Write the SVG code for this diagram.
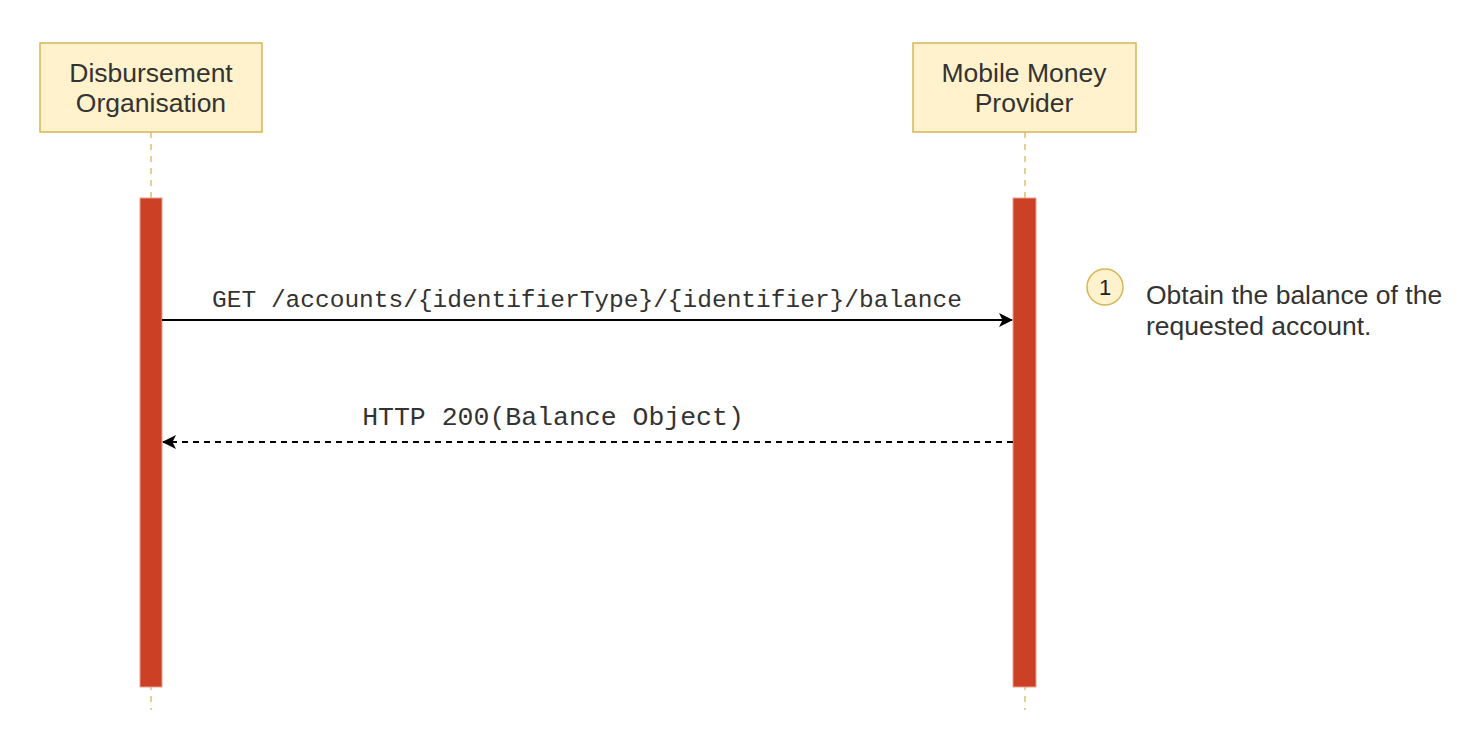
<svg xmlns="http://www.w3.org/2000/svg" width="1484" height="730" viewBox="0 0 1484 730">
<style>
.actor{fill:#fff2cc;stroke:#d6b656;stroke-width:1.5}
.lbl{font-family:"Liberation Sans",Arial,sans-serif;font-size:26.5px;fill:#333;text-anchor:middle}
.life{stroke:#d6b656;stroke-width:1.3;stroke-dasharray:6 6;fill:none}
.act{fill:#cc4125;stroke:#e8a090;stroke-width:1}
.mono{font-family:"Liberation Mono","Courier New",monospace;fill:#333;text-anchor:middle}
.note{font-family:"Liberation Sans",Arial,sans-serif;font-size:26.5px;fill:#333}
</style>
<defs>
<marker id="ah" viewBox="0 0 14 14" refX="13" refY="7" markerWidth="14" markerHeight="14" markerUnits="userSpaceOnUse" orient="auto">
<path d="M0,0 L14,7 L0,14 L3.5,7 Z" fill="#000"/>
</marker>
</defs>
<rect width="1484" height="730" fill="#fff"/>
<g id="disbursement">
<line class="life" x1="151" y1="132" x2="151" y2="710"/>
<rect class="actor" x="40" y="43" width="222" height="89"/>
<text class="lbl" x="151" y="82">Disbursement</text>
<text class="lbl" x="151" y="112">Organisation</text>
<rect class="act" x="140" y="198" width="22" height="489"/>
</g>
<g id="provider">
<line class="life" x1="1025" y1="132" x2="1025" y2="710"/>
<rect class="actor" x="913" y="43" width="223" height="89"/>
<text class="lbl" x="1024" y="82">Mobile Money</text>
<text class="lbl" x="1024" y="112">Provider</text>
<rect class="act" x="1013" y="198" width="23" height="489"/>
</g>
<g id="connectors">
<line x1="162" y1="320" x2="1012" y2="320" stroke="#000" stroke-width="2" marker-end="url(#ah)"/>
<text class="mono" x="587" y="307" font-size="24.5">GET /accounts/{identifierType}/{identifier}/balance</text>
<line x1="1013" y1="442" x2="163" y2="442" stroke="#000" stroke-width="2" stroke-dasharray="6 5" marker-end="url(#ah)"/>
<text class="mono" x="553" y="425" font-size="26.5">HTTP 200(Balance Object)</text>
</g>
<g id="note1">
<circle cx="1105" cy="287" r="18" fill="#fff2cc" stroke="#d6b656" stroke-width="1.5"/>
<text x="1105" y="295" font-family="Liberation Sans,Arial,sans-serif" font-size="22" fill="#222" text-anchor="middle">1</text>
<text class="note" x="1146" y="304">Obtain the balance of the</text>
<text class="note" x="1146" y="335">requested account.</text>
</g>
</svg>
